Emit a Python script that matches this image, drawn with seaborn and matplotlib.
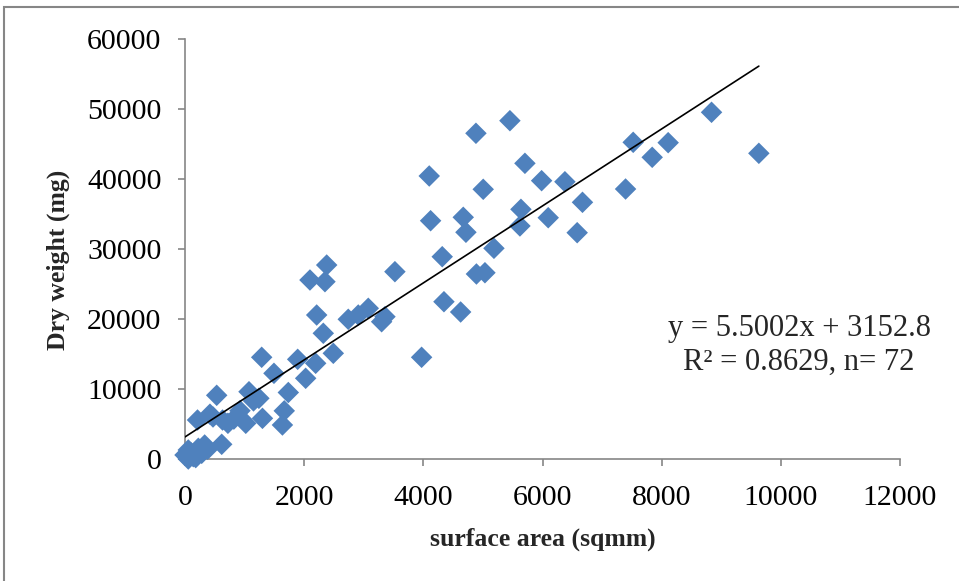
import numpy as np
import pandas as pd
import matplotlib
matplotlib.use("Agg")
import matplotlib.pyplot as plt
import seaborn as sns
from matplotlib.patches import Rectangle

# ---- data ----
surface_area = [
    8837, 9631, 7522, 8109, 7841, 7394, 6376, 6671, 6582, 5453,
    4883, 4099, 5705, 5005, 5985, 4122, 4670, 4715, 5638, 5621,
    6096, 5185, 4317, 3523, 4891, 5034, 4346, 4626, 3356, 3300,
    3971, 2378, 2097, 2349, 2210, 2740, 2908, 3076, 2321, 2489,
    1287, 1891, 2193, 1493, 2025, 1734, 532, 1074, 1240, 1666,
    210, 419, 630, 820, 923, 1020, 1300, 1635, 616, 330,
    224, 55, 0, 139, 280, 55, 720, 100, 180, 470,
    1150, 380,
]
dry_weight = [
    49530, 43670, 45240, 45190, 43100, 38570, 39610, 36670, 32330, 48330,
    46530, 40430, 42240, 38530, 39760, 34040, 34530, 32390, 35670, 33290,
    34470, 30100, 28900, 26760, 26430, 26610, 22470, 21000, 20330, 19610,
    14530, 27710, 25570, 25330, 20570, 19960, 20570, 21530, 17960, 15100,
    14530, 14240, 13670, 12240, 11530, 9500, 9100, 9610, 8670, 6880,
    5570, 6400, 5570, 5700, 6900, 5100, 5810, 4860, 2100, 2000,
    1530, 1290, 570, 330, 810, 0, 5100, 900, 200, 6000,
    8300, 1400,
]
slope = 5.5002
intercept = 3152.8
eq_text = "y = 5.5002x + 3152.8\nR² = 0.8629, n= 72"
x_label = "surface area (sqmm)"
y_label = "Dry weight (mg)"
x_ticks = [0, 2000, 4000, 6000, 8000, 10000, 12000]
y_ticks = [0, 10000, 20000, 30000, 40000, 50000, 60000]

df = pd.DataFrame({"x": surface_area, "y": dry_weight})
x_fit = np.array([min(surface_area), max(surface_area)])
fit_df = pd.DataFrame({"x": x_fit, "y": slope * x_fit + intercept})

# ---- style ----
sns.set_style("white")
plt.rcParams["font.family"] = ["Liberation Serif", "DejaVu Serif"]
axis_gray = "#868686"
blue = "#4F81BD"

fig = plt.figure(figsize=(9.59, 5.81), dpi=100)
ax = fig.add_axes([185 / 959, 1 - 459 / 581, 715 / 959, 420 / 581])

sns.scatterplot(data=df, x="x", y="y", marker="D", s=120, color=blue,
                edgecolor="none", linewidth=0, ax=ax, zorder=3, clip_on=False)
sns.lineplot(data=fit_df, x="x", y="y", color="black", linewidth=1.2,
             ax=ax, zorder=4)

ax.set_xlim(0, 12000)
ax.set_ylim(0, 60000)
ax.set_xticks(x_ticks)
ax.set_yticks(y_ticks)
ax.set_xticklabels([str(t) for t in x_ticks])
ax.set_yticklabels([str(t) for t in y_ticks])
ax.tick_params(axis="both", which="both", direction="out", length=5,
               width=1.2, color=axis_gray, labelsize=21.5, labelcolor="black",
               left=True, bottom=True)
ax.tick_params(axis="y", pad=12)
ax.tick_params(axis="x", pad=14)

for side in ["top", "right"]:
    ax.spines[side].set_visible(False)
for side in ["left", "bottom"]:
    ax.spines[side].set_color(axis_gray)
    ax.spines[side].set_linewidth(1.2)

ax.set_xlabel(x_label, fontsize=18.5, fontweight="bold", labelpad=12)
ax.set_ylabel(y_label, fontsize=18.5, fontweight="bold", labelpad=12)
ax.yaxis.set_label_coords(-0.161, 0.475)

fig.text(799 / 959, 1 - 345 / 581, eq_text, ha="center", va="center",
         multialignment="center", fontsize=22, linespacing=1.22)

# outer chart border
fig.patches.append(Rectangle((4 / 959, -0.1), 1.2, (581 - 7) / 581 + 0.1,
                             transform=fig.transFigure, fill=False,
                             edgecolor=axis_gray, linewidth=1.5))

fig.savefig("out.png", dpi=100)
